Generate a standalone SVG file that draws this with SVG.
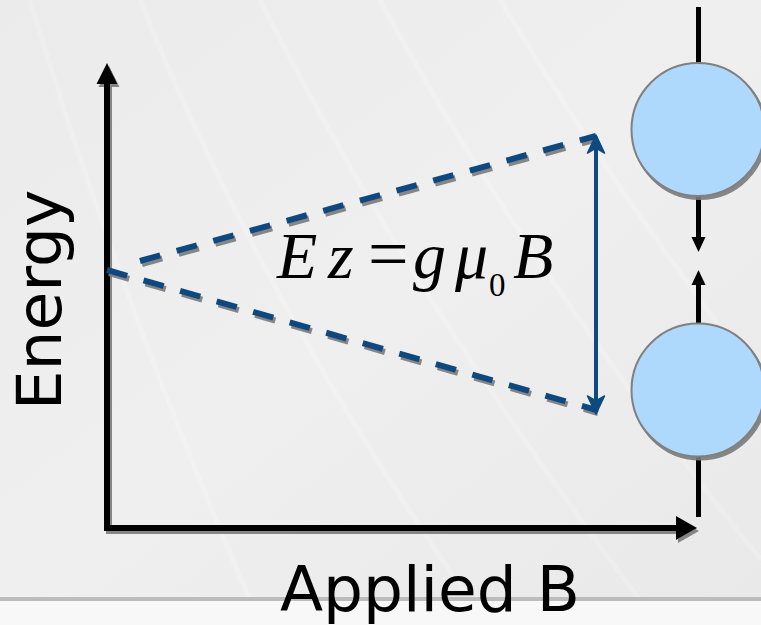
<svg xmlns="http://www.w3.org/2000/svg" width="761" height="625" viewBox="0 0 761 625">
<style>
.ax{stroke:#000;stroke-width:6;fill:none}
.dash{stroke:#0e4a7f;stroke-width:6;fill:none;stroke-dasharray:21 17}
.blue{stroke:#0e4a7f;stroke-width:4;fill:none}
.bl{stroke:#000;stroke-width:5;fill:none}
.circ{fill:#aed8fc;stroke:#808080;stroke-width:2}
.lbl{font-family:"DejaVu Sans",Verdana,sans-serif;font-size:63px;fill:#000}
.eq{font-family:"Liberation Serif","DejaVu Serif",serif;font-style:italic;font-size:66px;fill:#000}
.streak{stroke:#ffffff;stroke-opacity:0.18;fill:none;stroke-width:5}
</style>
<defs>
<linearGradient id="bg" x1="0" y1="0" x2="1" y2="1">
<stop offset="0" stop-color="#ebebeb"/>
<stop offset="0.5" stop-color="#efefef"/>
<stop offset="1" stop-color="#e9e9e9"/>
</linearGradient>
<filter id="sh" x="-10%" y="-10%" width="130%" height="130%">
<feDropShadow dx="2" dy="3" stdDeviation="0.6" flood-color="#7a7a7a" flood-opacity="0.9"/>
</filter>
</defs>
<rect x="0" y="0" width="761" height="600" fill="url(#bg)"/>
<g id="streaks">
<path class="streak" d="M30 0 Q120 300 250 600"/>
<path class="streak" d="M140 0 Q260 300 470 600"/>
<path class="streak" d="M260 0 Q400 280 640 600"/>
<path class="streak" d="M380 0 Q520 260 761 560"/>
<path class="streak" d="M500 0 Q620 200 761 380"/>
</g>
<rect x="0" y="597" width="761" height="4" fill="#bcbcbc"/>
<rect x="0" y="601" width="761" height="24" fill="#f8f8f8"/>

<g id="connectors">
<g id="y-axis" filter="url(#sh)">
<path class="ax" d="M107 83 V528"/>
<polygon points="107,63 96.5,84 117.5,84" fill="#000"/>
</g>
<g id="x-axis" filter="url(#sh)">
<path class="ax" d="M104 528 H678"/>
<polygon points="697,528 676,516 676,540" fill="#000"/>
</g>
<g id="upper-level" filter="url(#sh)">
<path class="dash" d="M140 261 L596 136"/>
</g>
<g id="lower-level" filter="url(#sh)">
<path class="dash" d="M107 270 L596 410"/>
</g>
<g id="split-arrow">
<path class="blue" d="M596 146 V403"/>
<path d="M596 135 L604.5 153 L596 148 L587.5 153 Z" fill="#0e4a7f" stroke="#0e4a7f" stroke-width="1.5" stroke-linejoin="round"/>
<path d="M596 414 L604.5 396 L596 401 L587.5 396 Z" fill="#0e4a7f" stroke="#0e4a7f" stroke-width="1.5" stroke-linejoin="round"/>
</g>
<g id="spin-lines">
<path class="bl" d="M698.5 7 V63"/>
<path class="bl" d="M698.5 196 V240"/>
<polygon points="698.5,252 691.5,237 705.5,237" fill="#000"/>
<path class="bl" d="M698.5 282 V324"/>
<polygon points="698.5,270 691.5,285 705.5,285" fill="#000"/>
<path class="bl" d="M698.5 456 V517"/>
</g>
</g>

<g id="spin-up" filter="url(#sh)">
<circle class="circ" cx="698" cy="129.5" r="66.5"/>
</g>
<g id="spin-down" filter="url(#sh)">
<circle class="circ" cx="698" cy="390" r="66.5"/>
</g>

<g id="energy-label">
<text class="lbl" transform="translate(61,300) rotate(-90)" text-anchor="middle">Energy</text>
</g>
<g id="field-label">
<text class="lbl" x="430" y="611" text-anchor="middle">Applied B</text>
</g>
<g id="equation">
<text class="eq" y="278"><tspan x="277">E</tspan><tspan x="328">z</tspan><tspan x="368" font-style="normal" font-size="72">=</tspan><tspan x="413" font-size="66">g</tspan><tspan x="455">μ</tspan><tspan x="489" y="296" font-size="33" font-style="normal">0</tspan><tspan x="513" y="278">B</tspan></text>
</g>
</svg>
